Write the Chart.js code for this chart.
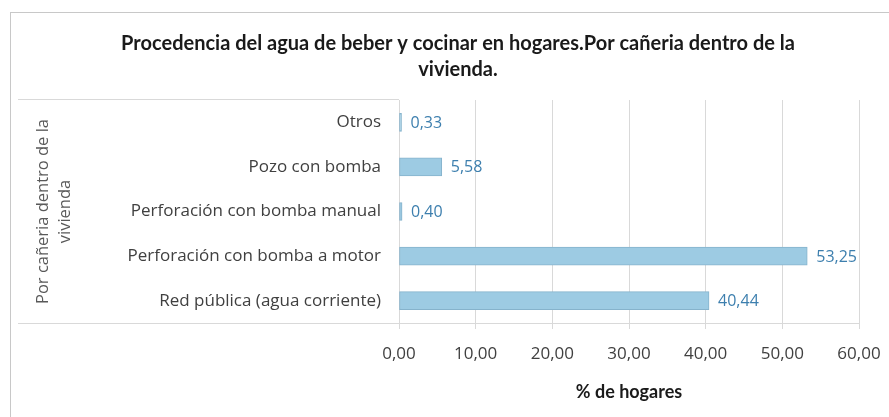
<!DOCTYPE html>
<html>
<head>
<meta charset="utf-8">
<script src="https://cdn.jsdelivr.net/npm/chart.js@4/dist/chart.umd.min.js"></script>
<style>
  html, body { margin: 0; padding: 0; background: #fff; }
  #wrap { position: relative; width: 889px; height: 417px; }
</style>
</head>
<body>
<div id="wrap"><canvas id="chart" width="889" height="417"></canvas></div>
<script>
// datos (de arriba hacia abajo)
const categorias = [
    "Otros",
    "Pozo con bomba",
    "Perforación con bomba manual",
    "Perforación con bomba a motor",
    "Red pública (agua corriente)"
];
const porcentajes = [0.33, 5.58, 0.40, 53.25, 40.44];
const ticksX = [0, 10, 20, 30, 40, 50, 60];

const tituloLineas = [
    "Procedencia del agua de beber y cocinar en hogares.Por cañeria dentro de la",
    "vivienda."
];
const tituloEjeY = ["Por cañeria dentro de la", "vivienda"];
const tituloEjeX = "% de hogares";

const fmt = v => v.toFixed(2).replace(".", ",");

// marco exterior y líneas de la zona de categorías (estilo Excel)
const marco = {
    id: "marco",
    beforeDraw(chart) {
        const { ctx, chartArea } = chart;
        ctx.save();
        ctx.strokeStyle = "#c8c8c8";
        ctx.lineWidth = 1;
        ctx.strokeRect(10.5, 12.5, chart.width + 20, chart.height + 20);
        ctx.strokeStyle = "#d9d9d9";
        ctx.beginPath();
        ctx.moveTo(18, Math.round(chartArea.top) - 0.5);
        ctx.lineTo(chartArea.left, Math.round(chartArea.top) - 0.5);
        ctx.moveTo(18, Math.round(chartArea.bottom) + 0.5);
        ctx.lineTo(chartArea.left, Math.round(chartArea.bottom) + 0.5);
        ctx.stroke();
        ctx.restore();
    }
};

// etiquetas de valor al final de cada barra
const etiquetas = {
    id: "etiquetas",
    afterDatasetsDraw(chart) {
        const { ctx } = chart;
        const meta = chart.getDatasetMeta(0);
        ctx.save();
        ctx.fillStyle = "#3d7fae";
        ctx.font = "16px 'Open Sans'";
        ctx.textAlign = "left";
        ctx.textBaseline = "middle";
        meta.data.forEach((bar, i) => {
            ctx.fillText(fmt(porcentajes[i]), bar.x + 9, bar.y + 1);
        });
        ctx.restore();
    }
};

new Chart(document.getElementById("chart"), {
    type: "bar",
    data: {
        labels: categorias,
        datasets: [{
            data: porcentajes,
            backgroundColor: "#9dcbe3",
            borderColor: "#86b3cc",
            borderWidth: 1,
            borderSkipped: false,
            barThickness: 18
        }]
    },
    options: {
        indexAxis: "y",
        responsive: false,
        animation: false,
        layout: { padding: { left: 32, right: 5, top: 12, bottom: 14 } },
        plugins: {
            legend: { display: false },
            tooltip: { enabled: false },
            title: {
                display: true,
                text: tituloLineas,
                color: "#1a1a1a",
                font: { family: "Lato", size: 20, weight: "bold", lineHeight: 1.3 },
                padding: { top: 19, bottom: 17 }
            }
        },
        scales: {
            x: {
                min: 0,
                max: 60,
                afterBuildTicks(scale) {
                    scale.ticks = ticksX.map(v => ({ value: v }));
                },
                afterFit(scale) {
                    scale.paddingLeft = 0;
                    scale.paddingRight = 30;
                },
                ticks: {
                    color: "#404040",
                    font: { family: "Open Sans", size: 17 },
                    padding: 15,
                    callback: v => fmt(v)
                },
                grid: { color: "#d9d9d9", tickLength: 6, drawTicks: true },
                border: { color: "#d9d9d9" },
                title: {
                    display: true,
                    text: tituloEjeX,
                    color: "#1a1a1a",
                    font: { family: "Lato", size: 18, weight: "bold" },
                    padding: { top: 2, bottom: 0 }
                }
            },
            y: {
                afterFit(scale) { scale.width = 367; },
                ticks: {
                    color: "#404040",
                    font: { family: "Open Sans", size: 17 },
                    padding: 18
                },
                grid: { display: false, drawTicks: false },
                border: { color: "#d9d9d9" },
                title: {
                    display: true,
                    text: tituloEjeY,
                    color: "#595959",
                    font: { family: "Open Sans", size: 16.5, lineHeight: 1.35 },
                    padding: { top: 0, bottom: 0 }
                }
            }
        }
    },
    plugins: [marco, etiquetas]
});
</script>
</body>
</html>
